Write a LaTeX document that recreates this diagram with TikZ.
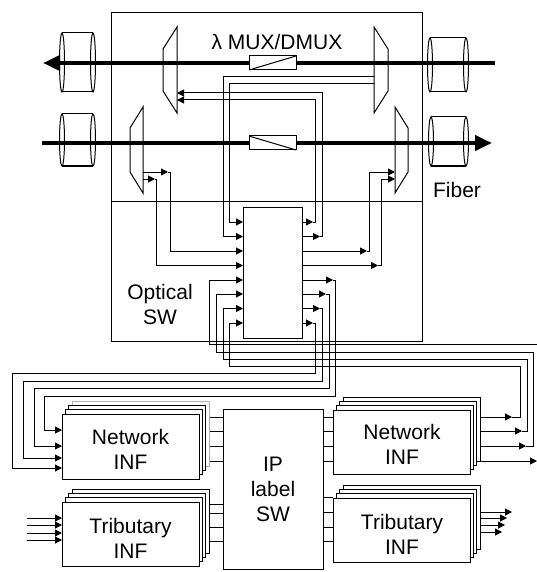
\documentclass[tikz,border=0pt]{standalone}
\usepackage{fontspec}
\setmainfont{Liberation Sans}
\usetikzlibrary{arrows.meta}
\begin{document}
\begin{tikzpicture}[x=1pt,y=-1pt,
  wire/.style={line width=1pt},
  arr/.style={wire,-{Triangle[length=7pt,width=7pt]}},
  fiber/.style={line width=4.3pt},
  bigarr/.style={fiber,-{Triangle[length=17pt,width=15pt]}},
  box/.style={draw,line width=1pt,fill=white,inner sep=0pt,outer sep=0pt},
  lbl/.style={font=\fontsize{21}{25}\selectfont,align=center,inner sep=0pt}]
\useasboundingbox (0,0) rectangle (537,572);
\clip (0,0) rectangle (537,572);

% optical node frame
\draw[wire] (111,13) rectangle (422,341);
\draw[wire] (111,201) -- (422,201);

% fiber spools
\foreach \xa/\xb/\ya/\yb in {62/93/33/92, 62/93/114/166, 430/466/38/92, 431/466/117/166}{
  \draw[wire] (\xa,\ya) -- (\xb,\ya) (\xa,\yb) -- (\xb,\yb);
  \pgfmathsetmacro{\yc}{(\ya+\yb)/2}
  \pgfmathsetmacro{\ry}{(\yb-\ya)/2}
  \draw[wire] (\xa,\yc) ellipse [x radius=2.5pt, y radius=\ry pt];
  \draw[wire] (\xb,\yc) ellipse [x radius=2.5pt, y radius=\ry pt];
}

% MUX / DMUX shapes
\draw[wire] (177,27) -- (163,49) -- (163,91) -- (177,113) -- cycle;
\draw[wire] (374,27) -- (388,49) -- (388,91) -- (374,113) -- cycle;
\draw[wire] (143,107) -- (130,128) -- (130,172) -- (143,193) -- cycle;
\draw[wire] (395,107) -- (408,128) -- (408,172) -- (395,193) -- cycle;

% thick fibers
\draw[bigarr] (495,63) -- (43,63);
\draw[bigarr] (42,143) -- (492,143);

% attenuators
\node[box,minimum width=47pt,minimum height=14pt] (att1) at (272.5,63) {};
\draw[wire] (att1.south west) -- (att1.north east);
\node[box,minimum width=47pt,minimum height=14pt] (att2) at (272.5,143) {};
\draw[wire] (att2.north west) -- (att2.south east);

% optical switch
\node[box,minimum width=59pt,minimum height=131pt] (osw) at (272.5,272.5) {};
\foreach \k/\y in {1/222,2/236.5,3/251,4/265.5,5/280,6/294,7/308.5,8/323}{
  \coordinate (i\k) at (243,\y);
  \coordinate (o\k) at (302,\y);
}

% MUX -> switch
\draw[arr] (374,77) -- (223,77) |- (i2);
\draw[arr] (374,84) -- (229,84) |- (i1);
\draw[arr] (143,172) -- (168,172);
\draw[arr] (168,172) -- (170,172) |- (i3);
\draw[arr] (143,179) -- (155,179);
\draw[arr] (155,179) -- (156,179) |- (i4);

% switch -> MUX
\draw[arr] (o1) -- (313,222);
\draw[arr] (313,222) -- (315,222) |- (177,100);
\draw[arr] (o2) -- (320,236.5);
\draw[arr] (320,236.5) -- (322,236.5) |- (177,93);
\draw[arr] (o3) -- (367,251);
\draw[arr] (367,251) -- (369,251) |- (395,172);
\draw[arr] (o4) -- (378,265.5);
\draw[arr] (378,265.5) -- (381,265.5) |- (395,179);

% IP label SW
\node[box,minimum width=100pt,minimum height=160pt] (ipsw) at (273,489) {};

% connectors between IP SW and interfaces (drawn first, hidden by boxes)
\foreach \y in {417,431,446,461}{
  \draw[wire] (ipsw.west |- 0,\y) -- (199,\y);
  \draw[wire] (ipsw.east |- 0,\y) -- (333,\y);
}
\foreach \y in {504,513,527,541}{
  \draw[wire] (ipsw.west |- 0,\y) -- (199,\y);
}
\foreach \y in {497,512,527,541}{
  \draw[wire] (ipsw.east |- 0,\y) -- (333,\y);
}

% switch -> left network INF
\draw[arr] (o5) -- (333,280);
\draw[arr] (333,280) -- (335,280) |- (44,396) |- (62,430);
\draw[arr] (o6) -- (326,294);
\draw[arr] (326,294) -- (329,294) |- (34,388) |- (62,446);
\draw[arr] (o7) -- (320,308.5);
\draw[arr] (320,308.5) -- (322,308.5) |- (23,381) |- (62,458);
\draw[arr] (o8) -- (313,323);
\draw[arr] (313,323) -- (315,323) |- (12,373) |- (62,468);

% right network INF -> switch
\draw[arr] (471,417) -- (512,417);
\draw[arr] (512,417) -- (520,417) |- (229,366) |- (i8);
\draw[arr] (471,431) -- (522,431);
\draw[arr] (522,431) -- (527,431) |- (223,359) |- (i7);
\draw[arr] (471,446) -- (526,446);
\draw[arr] (526,446) -- (533,446) |- (216,352) |- (i6);
\draw[arr] (471,461) -- (537,461);
\draw[arr] (537,461) -- (545,461) |- (209,344) |- (i5);

% tributary in / out
\foreach \y in {518,525,533,540}{
  \draw[arr] (27,\y) -- (62,\y);
}
\foreach \y/\t in {512/512,518/507,525/505,532/502}{
  \draw[arr] (471,\y) -- (\t,\y);
}

% interface card stacks
\foreach \x/\y/\w/\h/\nm/\bc in {62/414/137/65/lnet/gray!60, 333/410/137/64/rnet/black, 62/502/137/64/ltrib/black, 333/498/137/64/rtrib/black}{
  \draw[box,draw=\bc] (\x+10,\y-13) rectangle ++(\w,\h);
  \draw[box] (\x+6,\y-9) rectangle ++(\w,\h);
  \draw[box] (\x+3,\y-5) rectangle ++(\w,\h);
  \node[box,anchor=north west,minimum width=\w pt,minimum height=\h pt] (\nm) at (\x,\y) {};
}

% labels
\node[lbl] (tmux) at (277,42) {λ MUX/DMUX};
\node[lbl] (tfib) at (457,190) {Fiber};
\node[lbl] (topt) at (160,304.5) {Optical\\SW};
\node[lbl] (tlnet) at (130.5,449.5) {Network\\INF};
\node[lbl] (trnet) at (402,444.5) {Network\\INF};
\node[lbl] (tltrib) at (130.5,538) {Tributary\\INF};
\node[lbl] (trtrib) at (402,534) {Tributary\\INF};
\node[lbl] (tip) at (273,489.5) {IP\\label\\SW};
\end{tikzpicture}
\end{document}
